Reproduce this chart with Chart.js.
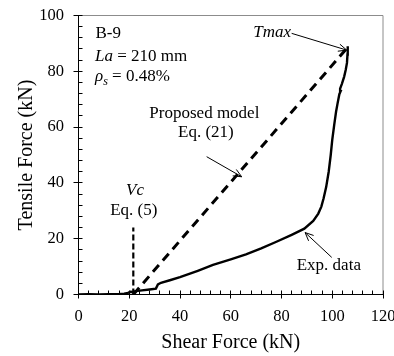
<!DOCTYPE html>
<html>
<head>
<meta charset="utf-8">
<script src="https://cdn.jsdelivr.net/npm/chart.js@4.4.0/dist/chart.umd.min.js"></script>
<style>
  html, body { margin: 0; padding: 0; background: #fff; }
  canvas { display: block; }
</style>
</head>
<body>
<canvas id="chart" width="394" height="356"></canvas>
<script>
// Specimen B-9: measured tensile force vs shear force
const expShear = [0, 4, 8, 12, 16, 18, 19.5, 20.5, 21.5, 22.5, 25, 28, 30.5, 31.3, 32.5, 36, 40, 47, 53, 60, 66, 72, 78, 84, 89, 92.5, 94.5, 95.7, 96.6, 97.6, 98.6, 99.4, 100, 100.8, 101.5, 102.1, 102.8, 103.3, 103.1, 103.8, 104.7, 105.3, 105.8, 106.0, 106.1];
const expTensile = [0, 0.1, 0, 0.1, 0.2, 0.3, 0.6, 1.0, 0.9, 1.2, 1.5, 1.8, 2.1, 3.6, 4.2, 5.1, 6.2, 8.5, 10.6, 12.6, 14.4, 16.5, 18.9, 21.4, 23.6, 26.4, 29.0, 31.5, 34.5, 38.5, 44.0, 50.0, 55.4, 61.0, 65.5, 68.5, 71.8, 72.9, 73.8, 75.5, 78.1, 80.5, 83.0, 86.0, 89.0];

// Proposed model, Eq. (21)
const modelShear = [21.6, 106.0];
const modelTensile = [0, 88.5];

// Vc from Eq. (5)
const vcShear = [21.6, 21.6];
const vcTensile = [0, 24];

const shearTicks = [0, 20, 40, 60, 80, 100, 120];
const tensileTicks = [0, 20, 40, 60, 80, 100];

const toXY = (xs, ys) => xs.map((v, i) => ({ x: v, y: ys[i] }));

const serif = "'Liberation Serif', 'Times New Roman', serif";

function arrow(ctx, x1, y1, x2, y2) {
  const ang = Math.atan2(y2 - y1, x2 - x1);
  const len = 9, spread = 0.42;
  ctx.beginPath();
  ctx.moveTo(x1, y1);
  ctx.lineTo(x2, y2);
  ctx.moveTo(x2 - len * Math.cos(ang - spread), y2 - len * Math.sin(ang - spread));
  ctx.lineTo(x2, y2);
  ctx.lineTo(x2 - len * Math.cos(ang + spread), y2 - len * Math.sin(ang + spread));
  ctx.stroke();
}

const decorations = {
  id: 'decorations',
  afterDatasetsDraw(chart) {
    const { ctx, chartArea: a, scales: { x, y } } = chart;
    const px = v => x.getPixelForValue(v);
    const py = v => y.getPixelForValue(v);
    const snap = p => Math.floor(p) + 0.5;

    ctx.save();
    ctx.lineWidth = 1;

    // top and right frame
    ctx.strokeStyle = '#8c8c8c';
    ctx.beginPath();
    ctx.moveTo(a.left, a.top);
    ctx.lineTo(a.right, a.top);
    ctx.lineTo(a.right, a.bottom);
    ctx.stroke();

    // axes with major (crossing) and minor (inside) ticks
    ctx.strokeStyle = '#000';
    ctx.beginPath();
    ctx.moveTo(a.left, a.top);
    ctx.lineTo(a.left, a.bottom);
    ctx.lineTo(a.right, a.bottom);
    for (let v = 0; v <= 120; v += 4) {
      const p = snap(px(v));
      const major = v % 20 === 0;
      ctx.moveTo(p, a.bottom + (major ? 4 : 0));
      ctx.lineTo(p, a.bottom - 4);
    }
    for (let v = 0; v <= 100; v += 4) {
      const p = snap(py(v));
      const major = v % 20 === 0;
      ctx.moveTo(a.left - (major ? 5 : 0), p);
      ctx.lineTo(a.left + 4, p);
    }
    ctx.stroke();

    // axis titles
    ctx.fillStyle = '#000';
    ctx.font = '20px ' + serif;
    ctx.textAlign = 'center';
    ctx.textBaseline = 'alphabetic';
    ctx.fillText('Shear Force (kN)', (a.left + a.right) / 2, 348);
    ctx.save();
    ctx.translate(32, (a.top + a.bottom) / 2);
    ctx.rotate(-Math.PI / 2);
    ctx.fillText('Tensile Force (kN)', 0, 0);
    ctx.restore();

    // specimen info
    const reg = '17px ' + serif;
    const ital = 'italic 17px ' + serif;
    ctx.textAlign = 'left';
    ctx.font = reg;
    ctx.fillText('B-9', px(6.7), py(91.8));

    let tx = px(6.5);
    ctx.font = ital;
    ctx.fillText('La', tx, py(83.7));
    tx += ctx.measureText('La').width;
    ctx.font = reg;
    ctx.fillText(' = 210 mm', tx, py(83.7));

    tx = px(6.5);
    ctx.font = ital;
    ctx.fillText('\u03C1', tx, py(76.5));
    tx += ctx.measureText('\u03C1').width;
    ctx.font = 'italic 12px ' + serif;
    ctx.fillText('s', tx, py(76.5) + 4);
    tx += ctx.measureText('s').width;
    ctx.font = reg;
    ctx.fillText(' = 0.48%', tx, py(76.5));

    // Tmax label
    ctx.font = ital;
    ctx.fillText('Tmax', px(68.9), py(92.3));
    arrow(ctx, px(84.0), py(93.6), px(105.7), py(87.6));

    // model label
    ctx.font = reg;
    ctx.textAlign = 'center';
    ctx.fillText('Proposed model', px(49.6), py(63.2));
    ctx.fillText('Eq. (21)', px(50.2), py(56.6));
    arrow(ctx, px(50.5), py(49.4), px(64.3), py(42.2));

    // Vc label
    ctx.font = ital;
    ctx.fillText('Vc', px(22.3), py(35.5));
    ctx.font = reg;
    ctx.fillText('Eq. (5)', px(21.8), py(28.5));

    // experimental label
    ctx.textAlign = 'left';
    ctx.fillText('Exp. data', px(86.0), py(8.8));
    arrow(ctx, px(99.8), py(13.3), px(89.3), py(22.2));

    ctx.restore();
  }
};

const axisFont = { family: serif, size: 16.5 };

new Chart(document.getElementById('chart').getContext('2d'), {
  type: 'scatter',
  data: {
    datasets: [
      {
        label: 'Exp. data',
        data: toXY(expShear, expTensile),
        showLine: true,
        borderColor: '#000',
        borderWidth: 2.4,
        pointRadius: 0,
        tension: 0
      },
      {
        label: 'Proposed model',
        data: toXY(modelShear, modelTensile),
        showLine: true,
        borderColor: '#000',
        borderWidth: 3,
        borderDash: [9, 6],
        pointRadius: 0
      },
      {
        label: 'Vc',
        data: toXY(vcShear, vcTensile),
        showLine: true,
        borderColor: '#000',
        borderWidth: 2.2,
        borderDash: [6, 3],
        pointRadius: 0
      }
    ]
  },
  options: {
    responsive: false,
    animation: false,
    layout: { padding: { left: 0, right: 11, top: 15.5, bottom: 0 } },
    plugins: {
      legend: { display: false },
      tooltip: { enabled: false }
    },
    scales: {
      x: {
        type: 'linear',
        min: 0,
        max: 120,
        grid: { display: false, drawTicks: false },
        border: { display: false },
        afterBuildTicks: s => { s.ticks = shearTicks.map(v => ({ value: v })); },
        afterFit: s => {
          s.height = 61.5;
          s.paddingLeft = 0;
          s.paddingRight = 0;
        },
        ticks: { color: '#000', font: axisFont, padding: 12, maxRotation: 0, autoSkip: false }
      },
      y: {
        type: 'linear',
        min: 0,
        max: 100,
        grid: { display: false, drawTicks: false },
        border: { display: false },
        afterBuildTicks: s => { s.ticks = tensileTicks.map(v => ({ value: v })); },
        afterFit: s => {
          s.width = 78.5;
          s.paddingTop = 0;
          s.paddingBottom = 0;
        },
        ticks: { color: '#000', font: axisFont, padding: 14.5, autoSkip: false }
      }
    }
  },
  plugins: [decorations]
});
</script>
</body>
</html>
